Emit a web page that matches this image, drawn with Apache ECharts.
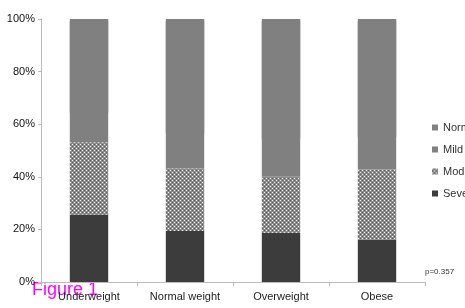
<!DOCTYPE html>
<html><head><meta charset="utf-8">
<script src="https://cdn.jsdelivr.net/npm/echarts@6/dist/echarts.min.js"></script>
<style>html,body{margin:0;padding:0;background:#fff}#c{width:465px;height:308px}</style>
</head><body><div id="c"></div>
<script>
var categories = ['Underweight', 'Normal weight', 'Overweight', 'Obese'];
var severe = [25.7, 19.4, 18.7, 16.2];
var moderate = [27.4, 23.8, 21.3, 26.6];
var mild = [12, 14, 15, 13];
var normal = [34.9, 42.8, 45.0, 44.2];
var yTicks = ['0%', '20%', '40%', '60%', '80%', '100%'];

var pc = document.createElement('canvas');
pc.width = 4; pc.height = 4;
var g = pc.getContext('2d');
g.fillStyle = '#8c8c8c'; g.fillRect(0, 0, 4, 4);
g.fillStyle = '#f0f0f0'; g.fillRect(0, 0, 1, 1); g.fillRect(2, 2, 1, 1);
g.fillStyle = '#5a5a5a'; g.fillRect(2, 0, 1, 1); g.fillRect(0, 2, 1, 1);

var chart = echarts.init(document.getElementById('c'));
function s(name, data, color, extra) {
  var it = { color: color, borderWidth: 0 };
  if (extra) { for (var k in extra) it[k] = extra[k]; }
  return { name: name, type: 'bar', stack: 'a', data: data, barWidth: '40%',
    itemStyle: it, emphasis: { disabled: true } };
}
chart.setOption({
  animation: false,
  grid: { left: 41, right: 40, top: 19, bottom: 26 },
  legend: {
    orient: 'vertical', left: 427, top: 117, itemGap: 11,
    itemWidth: 6, itemHeight: 6, icon: 'rect',
    itemStyle: { borderWidth: 0, shadowBlur: 0, shadowOffsetY: 0, shadowColor: 'transparent' },
    textStyle: { fontSize: 11, color: '#333', fontFamily: 'Liberation Sans' },
    data: ['Normal', 'Mild', 'Moderate', 'Severe']
  },
  xAxis: {
    type: 'category', data: categories,
    axisLine: { lineStyle: { color: '#bbb' } },
    axisTick: { show: true, length: 4, lineStyle: { color: '#bbb' } },
    axisLabel: { color: '#222', fontSize: 11, margin: 9, fontFamily: 'Liberation Sans' }
  },
  yAxis: {
    type: 'value', min: 0, max: 100, interval: 20,
    splitLine: { show: false },
    axisLine: { show: true, lineStyle: { color: '#bbb' } },
    axisTick: { show: true, length: 3, lineStyle: { color: '#bbb' } },
    axisLabel: { color: '#111', fontSize: 11, margin: 6, fontFamily: 'Liberation Sans',
      formatter: function (v) { return yTicks[Math.round(v / 20)]; } }
  },
  series: [
    s('Severe', severe, '#3c3c3c'),
    s('Moderate', moderate, { image: pc, repeat: 'repeat' }),
    s('Mild', mild, '#808080'),
    s('Normal', normal, '#808080', { shadowColor: '#808080', shadowBlur: 0, shadowOffsetY: 2 })
  ],
  graphic: [
    { type: 'text', left: 425, top: 268, style: { text: 'p=0.357', fontSize: 8, fill: '#333', fontFamily: 'Liberation Sans' } },
    { type: 'text', left: 32, top: 281, style: { text: 'Figure 1', fontSize: 18, fill: '#ff00ff', fontFamily: 'Liberation Sans' } }
  ]
});
</script></body></html>
